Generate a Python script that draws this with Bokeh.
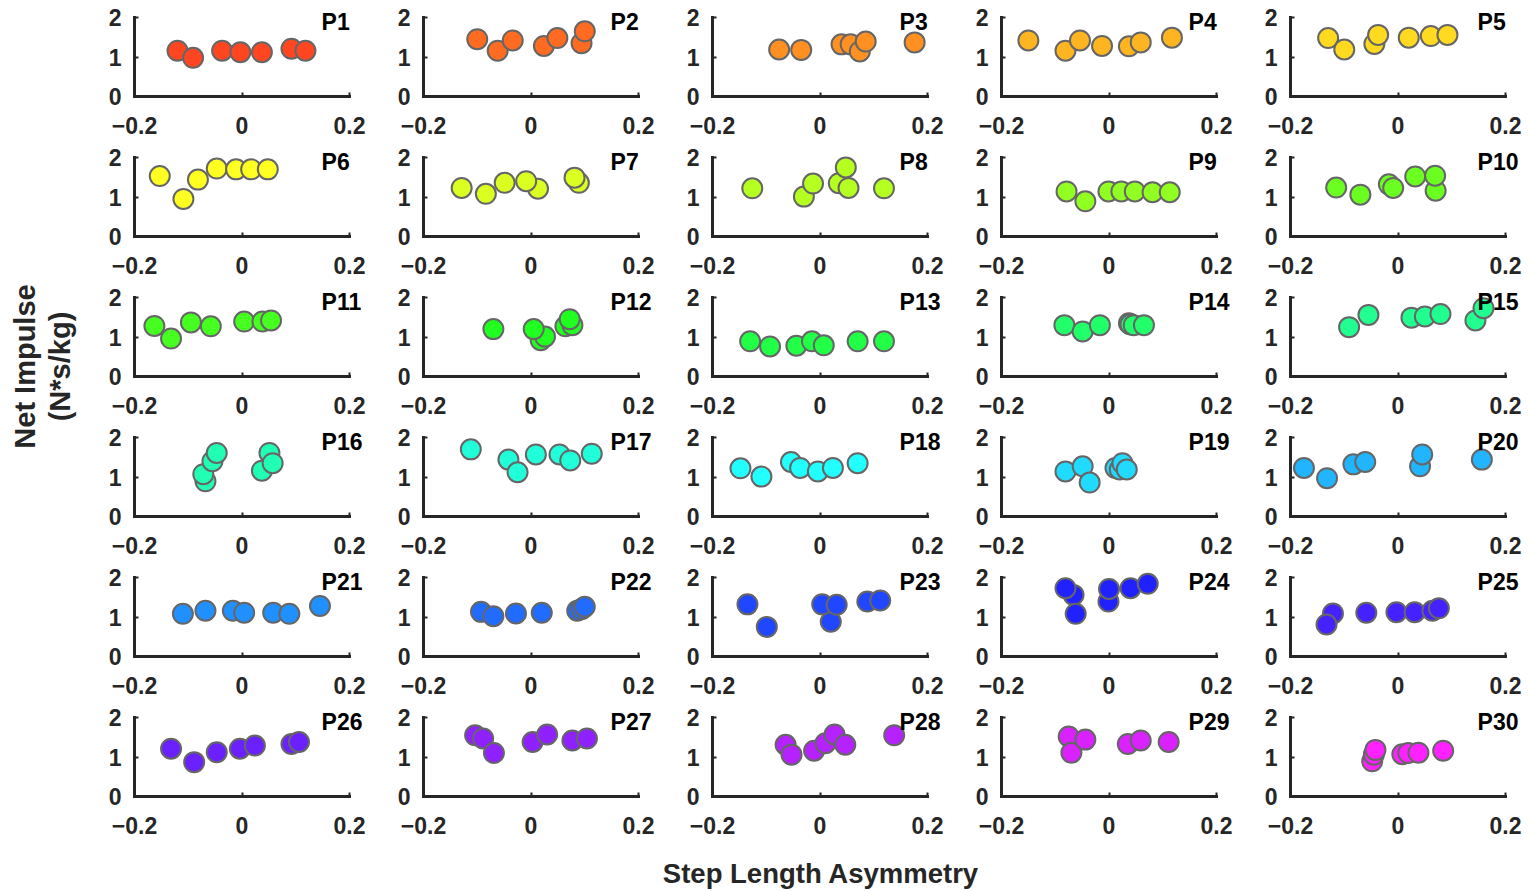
import colorsys
from bokeh.plotting import figure
from bokeh.layouts import gridplot, row, column
from bokeh.models import FixedTicker, Range1d, Label, Spacer
from bokeh.embed import file_html
from bokeh.resources import INLINE
from bokeh.core.properties import value

# ---------------- data ----------------
participants = [f"P{i}" for i in range(1, 31)]

step_asym = [
    [-0.120, -0.091, -0.037, -0.003, 0.037, 0.092, 0.118],   # P1
    [-0.100, -0.062, -0.034, 0.024, 0.049, 0.094, 0.100],    # P2
    [-0.076, -0.035, 0.040, 0.057, 0.074, 0.085, 0.176],     # P3
    [-0.150, -0.081, -0.054, -0.013, 0.037, 0.059, 0.117],   # P4
    [-0.130, -0.100, -0.044, -0.037, 0.020, 0.061, 0.092],   # P5
    [-0.153, -0.109, -0.082, -0.047, -0.011, 0.017, 0.048],  # P6
    [-0.129, -0.084, -0.049, 0.013, -0.009, 0.089, 0.081],   # P7
    [-0.126, -0.030, -0.013, 0.035, 0.053, 0.048, 0.119],    # P8
    [-0.079, -0.044, -0.001, 0.023, 0.048, 0.081, 0.113],    # P9
    [-0.115, -0.070, -0.017, -0.009, 0.032, 0.070, 0.069],   # P10
    [-0.163, -0.132, -0.095, -0.058, 0.004, 0.038, 0.054],   # P11
    [-0.070, 0.018, 0.026, 0.005, 0.064, 0.077, 0.072],      # P12
    [-0.130, -0.093, -0.044, -0.015, 0.007, 0.070, 0.119],   # P13
    [-0.083, -0.049, -0.017, 0.037, 0.040, 0.046, 0.065],    # P14
    [-0.091, -0.055, 0.025, 0.050, 0.079, 0.144, 0.159],     # P15
    [-0.068, -0.072, -0.055, -0.047, 0.037, 0.051, 0.057],   # P16
    [-0.112, -0.042, -0.025, 0.009, 0.053, 0.073, 0.113],    # P17
    [-0.148, -0.109, -0.054, -0.037, -0.004, 0.024, 0.070],  # P18
    [-0.081, -0.049, -0.036, 0.012, 0.020, 0.025, 0.033],    # P19
    [-0.175, -0.132, -0.083, -0.061, 0.041, 0.045, 0.156],   # P20
    [-0.110, -0.068, -0.017, 0.004, 0.058, 0.088, 0.145],    # P21
    [-0.093, -0.070, -0.028, 0.020, 0.086, 0.094, 0.100],    # P22
    [-0.135, -0.099, 0.020, 0.004, 0.031, 0.088, 0.112],     # P23
    [-0.066, -0.081, -0.062, -0.001, 0.000, 0.040, 0.072],   # P24
    [-0.121, -0.133, -0.059, -0.003, 0.031, 0.064, 0.076],   # P25
    [-0.132, -0.089, -0.047, -0.004, 0.024, 0.092, 0.106],   # P26
    [-0.104, -0.089, -0.069, 0.003, 0.030, 0.077, 0.104],    # P27
    [-0.064, -0.053, -0.011, 0.010, 0.027, 0.047, 0.138],    # P28
    [-0.075, -0.070, -0.044, 0.035, 0.059, 0.111],           # P29
    [-0.048, -0.045, -0.042, 0.008, 0.019, 0.038, 0.084],    # P30
]

net_impulse = [
    [1.16, 0.98, 1.16, 1.12, 1.12, 1.21, 1.16],   # P1
    [1.45, 1.16, 1.42, 1.28, 1.48, 1.35, 1.65],   # P2
    [1.19, 1.18, 1.32, 1.32, 1.14, 1.39, 1.37],   # P3
    [1.42, 1.16, 1.42, 1.28, 1.27, 1.37, 1.49],   # P4
    [1.48, 1.19, 1.33, 1.56, 1.49, 1.53, 1.56],   # P5
    [1.53, 0.95, 1.44, 1.72, 1.70, 1.70, 1.70],   # P6
    [1.23, 1.08, 1.36, 1.21, 1.40, 1.36, 1.49],   # P7
    [1.22, 1.01, 1.34, 1.35, 1.23, 1.75, 1.22],   # P8
    [1.14, 0.89, 1.14, 1.14, 1.14, 1.12, 1.12],   # P9
    [1.24, 1.06, 1.32, 1.23, 1.52, 1.16, 1.54],   # P10
    [1.28, 0.96, 1.37, 1.27, 1.39, 1.39, 1.42],   # P11
    [1.20, 0.92, 1.01, 1.20, 1.27, 1.30, 1.45],   # P12
    [0.89, 0.76, 0.78, 0.89, 0.79, 0.89, 0.89],   # P13
    [1.30, 1.14, 1.30, 1.35, 1.32, 1.30, 1.30],   # P14
    [1.25, 1.56, 1.49, 1.52, 1.58, 1.42, 1.73],   # P15
    [0.89, 1.07, 1.40, 1.61, 1.16, 1.61, 1.35],   # P16
    [1.70, 1.44, 1.12, 1.57, 1.57, 1.42, 1.59],   # P17
    [1.22, 1.01, 1.38, 1.23, 1.14, 1.23, 1.35],   # P18
    [1.14, 1.27, 0.86, 1.23, 1.19, 1.35, 1.19],   # P19
    [1.23, 0.97, 1.32, 1.38, 1.27, 1.57, 1.44],   # P20
    [1.08, 1.16, 1.16, 1.11, 1.11, 1.08, 1.28],   # P21
    [1.13, 1.02, 1.09, 1.11, 1.16, 1.20, 1.26],   # P22
    [1.32, 0.75, 0.88, 1.32, 1.31, 1.39, 1.42],   # P23
    [1.56, 1.73, 1.08, 1.39, 1.71, 1.73, 1.84],   # P24
    [1.09, 0.81, 1.11, 1.12, 1.12, 1.16, 1.22],   # P25
    [1.21, 0.87, 1.12, 1.21, 1.29, 1.33, 1.38],   # P26
    [1.55, 1.47, 1.10, 1.38, 1.57, 1.42, 1.47],   # P27
    [1.31, 1.06, 1.16, 1.35, 1.57, 1.31, 1.55],   # P28
    [1.52, 1.11, 1.44, 1.33, 1.42, 1.38],         # P29
    [0.89, 1.06, 1.18, 1.07, 1.10, 1.11, 1.16],   # P30
]

x_ticks = [-0.2, 0, 0.2]
x_tick_labels = ["\u22120.2", "0", "0.2"]
y_ticks = [0, 1, 2]
x_title = "Step Length Asymmetry"
y_title = ["Net Impulse", "(N*s/kg)"]

# ---------------- style ----------------
FONT = "Liberation Sans"
AX = "#262626"
NCOLS = 5


def panel_color(i):
    r, g, b = colorsys.hsv_to_rgb(((i + 1) * 10 % 360) / 360.0, 0.87, 1.0)
    return "#%02x%02x%02x" % (round(r * 255), round(g * 255), round(b * 255))


figs = []
for i, name in enumerate(participants):
    p = figure(frame_width=234, frame_height=91,
               x_range=Range1d(-0.2, 0.2353), y_range=Range1d(0, 91 / 39.5),
               min_border_left=54, min_border_right=1,
               min_border_top=1, min_border_bottom=48,
               output_backend="svg", toolbar_location=None)
    p.outline_line_color = None
    p.background_fill_color = "white"
    p.border_fill_color = "white"
    p.xgrid.visible = False
    p.ygrid.visible = False

    for ax in (p.xaxis[0], p.yaxis[0]):
        ax.axis_line_color = AX
        ax.axis_line_width = 3
        ax.axis_line_cap = "square"
        ax.major_tick_line_color = AX
        ax.major_tick_line_width = 2
        ax.major_tick_in = 4
        ax.major_tick_out = 0
        ax.minor_tick_line_color = None
        ax.major_label_text_font = FONT
        ax.major_label_text_font_style = "bold"
        ax.major_label_text_font_size = "23px"
        ax.major_label_text_color = AX

    p.xaxis.ticker = FixedTicker(ticks=x_ticks)
    p.xaxis.major_label_overrides = {t: s for t, s in zip(x_ticks, x_tick_labels)}
    p.xaxis.bounds = (x_ticks[0], x_ticks[-1])
    p.xaxis.major_label_standoff = 20
    p.yaxis.ticker = FixedTicker(ticks=y_ticks)
    p.yaxis.bounds = (y_ticks[0], y_ticks[-1])
    p.yaxis.major_label_standoff = 13

    p.scatter(x=step_asym[i], y=net_impulse[i], size=20,
              fill_color=panel_color(i), line_color="#666666", line_width=2)

    p.text(x=[0.148], y=[1.89], text=[name], text_font=value(FONT),
           text_font_style="bold", text_font_size="23px", text_color="black",
           text_align="left", text_baseline="middle")
    figs.append(p)

grid = gridplot(figs, ncols=NCOLS, toolbar_location=None)

# y title panel
left = figure(width=80, height=840, x_range=Range1d(0, 80), y_range=Range1d(0, 840),
              x_axis_type=None, y_axis_type=None, min_border=0,
              output_backend="svg", toolbar_location=None)
left.outline_line_color = None
left.xgrid.visible = False
left.ygrid.visible = False
for xpos, txt in zip([24, 59], y_title):
    left.add_layout(Label(x=xpos, y=478, text=txt, angle=1.5707963, text_align="center",
                          text_baseline="middle", text_font=FONT, text_font_style="bold",
                          text_font_size="29px", text_color=AX))

# x title panel
bottom = figure(width=1525, height=47, x_range=Range1d(0, 1525), y_range=Range1d(0, 47),
                x_axis_type=None, y_axis_type=None, min_border=0,
                output_backend="svg", toolbar_location=None)
bottom.outline_line_color = None
bottom.xgrid.visible = False
bottom.ygrid.visible = False
bottom.add_layout(Label(x=820.5, y=18, text=x_title, text_align="center",
                        text_baseline="middle", text_font=FONT, text_font_style="bold",
                        text_font_size="27.5px", text_color=AX))

layout = column(Spacer(width=1525, height=4), row(left, grid), bottom)

open("out.html", "w").write(file_html(layout, INLINE))
